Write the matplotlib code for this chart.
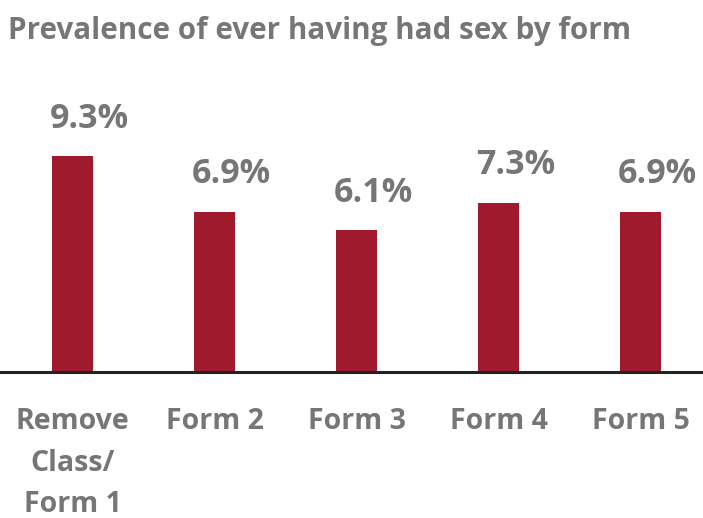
import matplotlib.pyplot as plt

plt.rcParams['font.family'] = ['Open Sans', 'DejaVu Sans']

# data
categories = ['Remove\nClass/\nForm 1', 'Form 2', 'Form 3', 'Form 4', 'Form 5']
values = [9.3, 6.9, 6.1, 7.3, 6.9]
labels = ['9.3%', '6.9%', '6.1%', '7.3%', '6.9%']

bar_color = '#A01A2E'
text_color = '#767676'

fig = plt.figure(figsize=(7.03, 5.18), dpi=100)
ax = fig.add_axes([0, 146 / 518, 1, 312 / 518])

x = range(len(categories))
ax.bar(x, values, width=0.29, color=bar_color)

for xi, v, lab in zip(x, values, labels):
    ax.annotate(lab, (xi, v), xytext=(12, 27), textcoords='offset points',
                ha='center', va='center', fontsize=24.5, fontweight='bold',
                color=text_color)

ax.set_xlim(-0.511, 4.44)
ax.set_ylim(0, 13.45)

ax.set_xticks(list(x))
ax.set_xticklabels(categories, fontsize=20.5, fontweight='bold',
                   color=text_color, linespacing=1.55, va='top')
ax.tick_params(axis='x', length=0, pad=25.5)
ax.set_yticks([])

for s in ['top', 'right', 'left']:
    ax.spines[s].set_visible(False)
ax.spines['bottom'].set_color('#222222')
ax.spines['bottom'].set_linewidth(2.2)

fig.text(8 / 703, 1 - 31 / 518, 'Prevalence of ever having had sex by form',
         fontsize=21.3, fontweight='bold', color=text_color, va='center', ha='left')

fig.savefig('out.png', dpi=100)
